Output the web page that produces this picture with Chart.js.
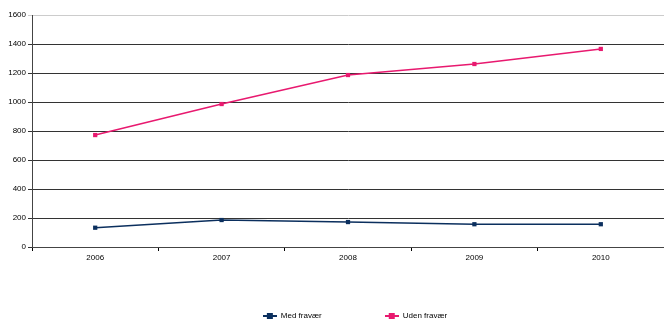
<!DOCTYPE html>
<html>
<head>
<meta charset="utf-8">
<script src="https://cdn.jsdelivr.net/npm/chart.js@4/dist/chart.umd.min.js"></script>
<style>
  html, body { margin: 0; padding: 0; background: #fff; }
  #wrap { width: 664px; height: 323px; }
</style>
</head>
<body>
<div id="wrap"><canvas id="chart"></canvas></div>
<script>
const years = ['2006', '2007', '2008', '2009', '2010'];
const medFravaer = [133, 186, 172, 157, 157];
const udenFravaer = [772, 986, 1186, 1262, 1366];
const yTicks = [0, 200, 400, 600, 800, 1000, 1200, 1400, 1600];

const navy = '#0b2f5e';
const pink = '#e8196f';

// legend marker: short line with a square in the middle
function legendMarker(color) {
    const c = document.createElement('canvas');
    c.width = 14;
    c.height = 6;
    const ctx = c.getContext('2d');
    ctx.strokeStyle = color;
    ctx.lineWidth = 2;
    ctx.beginPath();
    ctx.moveTo(0, 3);
    ctx.lineTo(14, 3);
    ctx.stroke();
    ctx.fillStyle = color;
    ctx.fillRect(4, 0, 6, 6);
    return c;
}

// move the legend a bit right and up, like the original sheet
const legendShift = {
    id: 'legendShift',
    afterLayout(chart) {
        const lg = chart.legend;
        lg.left += 21;
        lg.right += 21;
        lg.top -= 15;
        lg.bottom -= 15;
    }
};

Chart.defaults.font.family = '"Liberation Sans", Arial, sans-serif';
Chart.defaults.font.size = 8;
Chart.defaults.color = '#000';

new Chart(document.getElementById('chart'), {
    type: 'line',
    data: {
        labels: years,
        datasets: [{
            label: 'Med fravær',
            data: medFravaer,
            borderColor: navy,
            backgroundColor: navy,
            borderWidth: 1.5,
            pointStyle: 'rect',
            pointRadius: 3,
            pointBorderWidth: 0,
            tension: 0
        }, {
            label: 'Uden fravær',
            data: udenFravaer,
            borderColor: pink,
            backgroundColor: pink,
            borderWidth: 1.5,
            pointStyle: 'rect',
            pointRadius: 3,
            pointBorderWidth: 0,
            tension: 0
        }]
    },
    options: {
        responsive: true,
        maintainAspectRatio: false,
        animation: false,
        layout: { autoPadding: false, padding: { top: 15, right: -4, bottom: -22, left: 0 } },
        plugins: {
            tooltip: { enabled: false },
            legend: {
                position: 'bottom',
                labels: {
                    usePointStyle: true,
                    pointStyleWidth: 14,
                    padding: 63,
                    generateLabels: (chart) => chart.data.datasets.map((ds, i) => ({
                        text: ds.label,
                        pointStyle: legendMarker(ds.borderColor),
                        fillStyle: ds.borderColor,
                        strokeStyle: ds.borderColor,
                        lineWidth: 0,
                        datasetIndex: i
                    }))
                }
            }
        },
        scales: {
            x: {
                offset: true,
                grid: {
                    offset: true,
                    drawOnChartArea: false,
                    drawTicks: true,
                    tickLength: 4,
                    color: '#000'
                },
                border: { color: '#444', width: 1 },
                ticks: { padding: 2, maxRotation: 0 },
                afterFit: (scale) => {
                    scale.height = 17;
                    scale.paddingLeft = 0;
                    scale.paddingRight = -4;
                }
            },
            y: {
                min: 0,
                max: 1600,
                afterBuildTicks: (scale) => { scale.ticks = yTicks.map(v => ({ value: v })); },
                afterFit: (scale) => { scale.width = 32; },
                grid: {
                    color: (ctx) => ctx.tick && ctx.tick.value === 1600 ? '#cccccc' : '#333333',
                    tickLength: 4,
                    lineWidth: 1
                },
                border: { color: '#444', width: 1 },
                ticks: { padding: 2, callback: (v) => String(v) }
            }
        }
    },
    plugins: [legendShift]
});
</script>
</body>
</html>
